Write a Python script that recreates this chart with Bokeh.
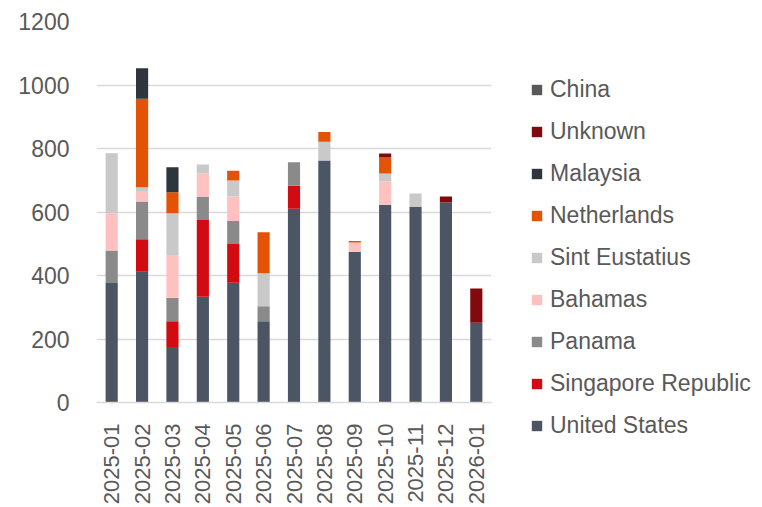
import math
from bokeh.plotting import figure
from bokeh.models import Range1d, FactorRange, Legend, LegendItem, ColumnDataSource
from bokeh.embed import file_html
from bokeh.resources import INLINE

months = ["2025-01", "2025-02", "2025-03", "2025-04", "2025-05", "2025-06", "2025-07",
          "2025-08", "2025-09", "2025-10", "2025-11", "2025-12", "2026-01"]

united_states = [376, 412, 175, 333, 377, 256, 610, 762, 474, 623, 616, 630, 251]
singapore_republic = [0, 102, 81, 242, 122, 0, 73, 0, 0, 0, 0, 0, 0]
panama = [103, 119, 74, 72, 73, 47, 74, 0, 0, 0, 0, 0, 0]
bahamas = [117, 31, 132, 74, 77, 0, 0, 0, 30, 73, 0, 0, 0]
sint_eustatius = [189, 14, 134, 29, 50, 104, 0, 59, 0, 25, 42, 0, 0]
netherlands = [0, 279, 66, 0, 31, 129, 0, 31, 5, 51, 0, 0, 0]
malaysia = [0, 96, 79, 0, 0, 0, 0, 0, 0, 0, 0, 0, 0]
unknown = [0, 0, 0, 0, 0, 0, 0, 0, 0, 12, 0, 19, 108]
china = [0, 0, 0, 0, 0, 0, 0, 0, 0, 0, 0, 0, 0]

series_names = ["United States", "Singapore Republic", "Panama", "Bahamas", "Sint Eustatius",
                "Netherlands", "Malaysia", "Unknown", "China"]
series_values = [united_states, singapore_republic, panama, bahamas, sint_eustatius,
                 netherlands, malaysia, unknown, china]
colors = ["#4B5563", "#D20A11", "#8A8A8A", "#FFC0C0", "#C9C9C9",
          "#E35205", "#2E353D", "#800A0E", "#595959"]

keys = ["s%d" % i for i in range(len(series_names))]
data = {"months": months}
for k, v in zip(keys, series_values):
    data[k] = v
source = ColumnDataSource(data)

FONT = "Liberation Sans"
TXT = "#595959"

p = figure(x_range=FactorRange(*months), y_range=Range1d(0, 1200),
           frame_width=395, frame_height=381,
           min_border_left=96, min_border_top=21, min_border_right=10, min_border_bottom=0,
           output_backend="svg", toolbar_location=None)

renderers = p.vbar_stack(keys, x="months", width=0.4, color=colors, source=source,
                         line_color=None)

p.outline_line_color = None
p.background_fill_color = "white"
p.border_fill_color = "white"

p.xgrid.grid_line_color = None
p.ygrid.grid_line_color = "#D9D9D9"
p.ygrid.grid_line_width = 1.5

p.yaxis.axis_line_color = None
p.yaxis.major_tick_line_color = None
p.yaxis.minor_tick_line_color = None
p.yaxis.major_label_text_font = FONT
p.yaxis.major_label_text_font_size = "23px"
p.yaxis.major_label_text_color = TXT
p.yaxis.major_label_standoff = 21
p.yaxis.ticker = [0, 200, 400, 600, 800, 1000, 1200]

p.xaxis.axis_line_color = "#D9D9D9"
p.xaxis.axis_line_width = 1.5
p.xaxis.major_tick_line_color = None
p.xaxis.minor_tick_line_color = None
p.xaxis.major_label_orientation = math.pi / 2
p.xaxis.major_label_text_font = FONT
p.xaxis.major_label_text_font_size = "22px"
p.xaxis.major_label_text_color = TXT
p.xaxis.major_label_standoff = 15

items = [LegendItem(label=n, renderers=[r]) for n, r in zip(series_names, renderers)]
items = items[::-1]
legend = Legend(items=items, location=(39, -37), orientation="vertical",
                glyph_width=13, glyph_height=13, label_height=23, spacing=15,
                label_standoff=7, padding=0, margin=0,
                border_line_color=None, background_fill_alpha=0,
                label_text_font=FONT, label_text_font_size="23px", label_text_color=TXT)
p.add_layout(legend, "right")

open("out.html", "w").write(file_html(p, INLINE))
